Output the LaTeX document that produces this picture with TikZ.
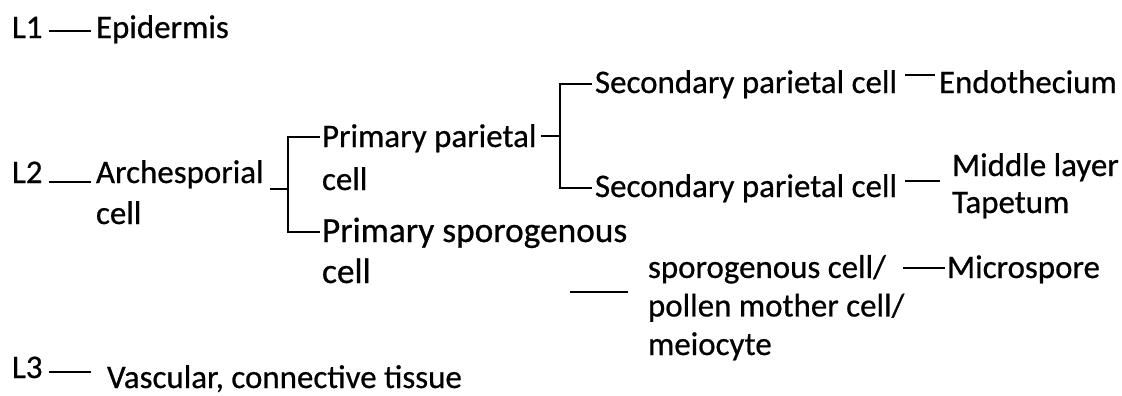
\documentclass[tikz,border=0pt]{standalone}
\usepackage{fontspec}
\setmainfont{Carlito}[FakeBold=0.6]
\newfontfamily\dkfont{Carlito}[FakeBold=0.6]
\begin{document}
\begin{tikzpicture}[x=0.75pt,y=-0.75pt,
  lbl/.style={anchor=base west,inner sep=0pt,outer sep=0pt,align=left,font=\dkfont\fontsize{24.7}{30.75}\selectfont},
  conn/.style={line width=2.1pt}]
\useasboundingbox (0,0) rectangle (1122,396);
\fill[white] (0,0) rectangle (1122,396);
% L1
\node[lbl] (L1) at (12,38) {L1};
\node[lbl] (epi) at (96,38) {Epidermis};
\coordinate (l1a) at (49,31); \coordinate (l1b) at (91,31);
\draw[conn] (l1a) -- (l1b);
% L2 (multi-line nodes are placed by the baseline of their last line)
\node[lbl] (L2) at (12,183) {L2};
\node[lbl] (arch) at (96,224) {Archesporial\\cell};
\coordinate (l2a) at (49,182); \coordinate (l2b) at (91,182);
\draw[conn] (l2a) -- (l2b);
% bracket 1
\node[lbl,font=\dkfont\fontsize{24.7}{32.25}\selectfont] (ppc) at (322,190) {Primary parietal\\cell};
\node[lbl,font=\dkfont\fontsize{26.5}{30.75}\selectfont] (psc) at (322,283) {Primary sporogenous\\cell};
\coordinate (b1s) at (270,189); \coordinate (b1v) at (288,189);
\coordinate (b1t) at (320,137); \coordinate (b1b) at (320,232);
\draw[conn] (b1s) -- (b1v);
\draw[conn] (b1t) -| (b1v) |- (b1b);
% bracket 2
\node[lbl] (spc1) at (595,93) {Secondary parietal cell};
\node[lbl] (spc2) at (595,197) {Secondary parietal cell};
\coordinate (b2s) at (541,136); \coordinate (b2v) at (560,136);
\coordinate (b2t) at (592,84); \coordinate (b2b) at (592,188);
\draw[conn] (b2s) -- (b2v);
\draw[conn] (b2t) -| (b2v) |- (b2b);
% endothecium
\node[lbl] (endo) at (939,93) {Endothecium};
\coordinate (e1) at (905,75); \coordinate (e2) at (935,75);
\draw[conn] (e1) -- (e2);
% middle layer / tapetum
\node[lbl,font=\dkfont\fontsize{24.7}{27.75}\selectfont] (mid) at (952,213) {Middle layer\\Tapetum};
\coordinate (m1) at (905,181); \coordinate (m2) at (940,181);
\draw[conn] (m1) -- (m2);
% sporogenous cell
\node[lbl,font=\dkfont\fontsize{24.7}{28.9}\selectfont] (spo) at (648,355) {sporogenous cell/\\pollen mother cell/\\meiocyte};
\coordinate (s1) at (570,292); \coordinate (s2) at (628,292);
\draw[conn] (s1) -- (s2);
% microspore
\node[lbl] (mic) at (947,278) {Microspore};
\coordinate (mc1) at (903,268); \coordinate (mc2) at (945,268);
\draw[conn] (mc1) -- (mc2);
% L3
\node[lbl] (L3) at (12,378) {L3};
\node[lbl] (vas) at (107,388) {Vascular, connective tissue};
\coordinate (l3a) at (49,372); \coordinate (l3b) at (91,372);
\draw[conn] (l3a) -- (l3b);
\end{tikzpicture}
\end{document}
